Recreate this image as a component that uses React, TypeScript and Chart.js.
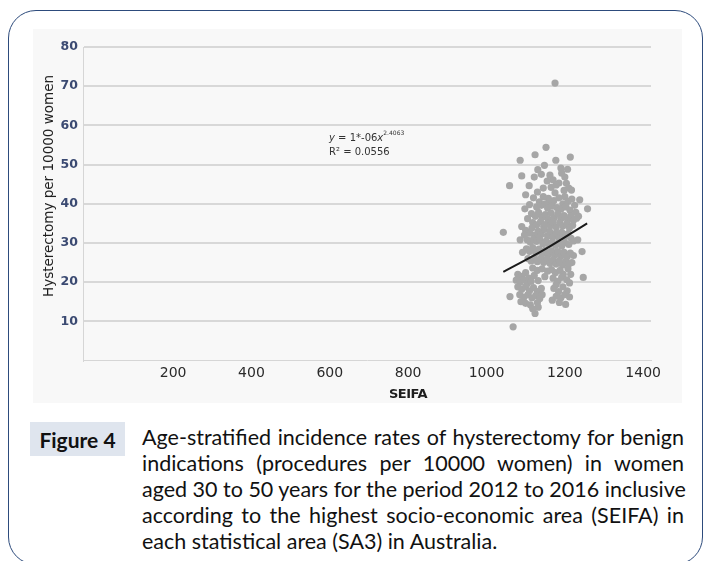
import React, { useEffect, useRef } from 'react';
import { Chart, registerables } from 'chart.js';

Chart.register(...registerables);

// ---- data ----
const xTickValues = [200, 400, 600, 800, 1000, 1200, 1400];
const yTickValues = [0, 10, 20, 30, 40, 50, 60, 70, 80];

// [SEIFA score, hysterectomies per 10000 women]
const scatterPoints: [number, number][] = [
  // periphery / outliers
  [1175, 70.8], [1152, 54.4], [1124, 52.5], [1086, 51.1], [1177, 51.1], [1214, 51.9],
  [1131, 48.7], [1148, 49.8], [1190, 49.1], [1207, 48.8], [1090, 47.1], [1122, 46.8],
  [1162, 47.3], [1170, 46.1], [1200, 46.8], [1059, 44.6], [1109, 44.6], [1185, 45.3],
  [1100, 42.3], [1130, 43.0], [1198, 43.4], [1217, 43.5], [1158, 41.4], [1200, 41.8],
  [1238, 41.0], [1098, 38.7], [1258, 38.7], [1043, 32.7], [1090, 34.2], [1086, 30.8],
  [1092, 27.6], [1233, 30.8], [1244, 27.8], [1247, 21.2], [1149, 21.4], [1122, 21.7],
  [1060, 16.3], [1068, 8.6], [1124, 12.0], [1168, 15.4], [1202, 14.3],
  // 40 - 50
  [1140, 47.5], [1155, 45.8], [1165, 44.2], [1178, 44.8], [1192, 47.8], [1204, 45.2],
  [1145, 44.0], [1210, 44.0], [1175, 42.8],
  [1120, 41.5], [1135, 40.5], [1145, 41.8], [1163, 40.2], [1172, 40.8], [1185, 41.5],
  [1195, 40.0], [1208, 40.6], [1218, 41.2], [1225, 39.6], [1110, 39.8], [1128, 39.2],
  [1140, 39.6], [1150, 40.0], [1156, 38.9], [1168, 39.4], [1180, 39.0], [1190, 38.6],
  [1203, 39.2], [1213, 38.4], [1228, 37.8], [1235, 36.8],
  // 35 - 40
  [1115, 37.5], [1125, 36.8], [1133, 37.8], [1142, 36.5], [1150, 37.2], [1158, 36.0],
  [1165, 37.6], [1173, 36.4], [1182, 37.4], [1190, 36.2], [1198, 37.0], [1207, 36.0],
  [1215, 36.9], [1222, 35.8], [1118, 35.2], [1128, 34.6], [1138, 35.4], [1146, 34.2],
  [1155, 35.0], [1163, 34.4], [1170, 35.3], [1178, 34.0], [1187, 35.1], [1195, 34.3],
  [1205, 34.9], [1212, 33.8], [1220, 34.5], [1105, 36.2], [1230, 36.3],
  // 30 - 35
  [1100, 33.2], [1110, 32.5], [1116, 33.8], [1124, 32.0], [1132, 33.0], [1140, 32.2],
  [1148, 33.4], [1156, 31.8], [1162, 32.8], [1170, 31.6], [1178, 32.6], [1185, 31.4],
  [1192, 32.7], [1200, 31.5], [1208, 32.4], [1216, 31.2], [1104, 30.8], [1112, 30.2],
  [1120, 31.0], [1128, 30.4], [1136, 30.9], [1144, 29.8], [1152, 30.5], [1160, 29.6],
  [1168, 30.2], [1176, 29.4], [1184, 30.0], [1192, 29.2], [1200, 30.1], [1210, 29.6],
  [1222, 30.5], [1097, 32.0],
  // 25 - 30
  [1102, 28.5], [1110, 27.8], [1118, 28.8], [1126, 27.5], [1134, 28.4], [1142, 27.2],
  [1150, 28.2], [1158, 27.0], [1166, 28.0], [1174, 26.8], [1182, 27.8], [1190, 26.6],
  [1198, 27.6], [1206, 26.5], [1214, 27.4], [1222, 26.8], [1106, 26.0], [1114, 25.4],
  [1122, 26.2], [1130, 25.2], [1138, 26.0], [1146, 25.0], [1154, 25.8], [1162, 24.8],
  [1170, 25.6], [1178, 24.6], [1186, 25.4], [1194, 24.4], [1202, 25.2], [1210, 24.6],
  [1218, 25.0],
  // 20 - 25
  [1118, 23.6], [1130, 23.0], [1142, 23.4], [1156, 22.8], [1166, 23.2], [1176, 22.4],
  [1188, 23.0], [1196, 22.0], [1208, 23.4], [1215, 22.0], [1080, 22.0], [1090, 21.5],
  [1100, 22.4], [1108, 21.0], [1076, 20.5], [1086, 20.0], [1095, 20.6], [1104, 19.6],
  [1114, 20.2], [1132, 20.4], [1170, 21.0], [1182, 20.2], [1192, 21.2], [1205, 20.6],
  [1212, 19.8], [1178, 19.4],
  // 12 - 20
  [1080, 18.8], [1090, 18.2], [1100, 18.8], [1110, 17.8], [1120, 18.6], [1130, 17.6],
  [1140, 18.4], [1085, 16.8], [1096, 16.2], [1106, 16.8], [1116, 16.0], [1126, 16.6],
  [1136, 15.8], [1088, 15.0], [1100, 14.6], [1112, 14.2], [1130, 14.8], [1142, 16.8],
  [1172, 18.4], [1184, 17.6], [1195, 18.8], [1206, 17.8], [1178, 16.4], [1190, 16.0],
  [1200, 16.8], [1212, 16.2], [1186, 14.8], [1118, 13.2], [1132, 13.6],
];

// power trend line, read at its ends and middle
const trendSeifa = [1043, 1150, 1257];
const trendRate = [22.6, 28.4, 35.0];

const equationMain = ' = 1*-06';
const equationExponent = '2.4063';
const rSquaredLabel = 'R² = 0.0556';
const equationAnchor = { x: 598, y: 56.8 };

const yAxisTitle = 'Hysterectomy per 10000 women';
const xAxisTitle = 'SEIFA';
const figureLabel = 'Figure 4';
const captionLines = [
  'Age-stratified incidence rates of hysterectomy for benign',
  'indications (procedures per 10000 women) in women',
  'aged 30 to 50 years for the period 2012 to 2016 inclusive',
  'according to the highest socio-economic area (SEIFA) in',
  'each statistical area (SA3) in Australia.',
];

const FONT = '"DejaVu Sans", sans-serif';

const equationPlugin = {
  id: 'equationText',
  afterDatasetsDraw(chart: any) {
    const { ctx, scales } = chart;
    const x0 = scales.x.getPixelForValue(equationAnchor.x);
    const y0 = scales.y.getPixelForValue(equationAnchor.y);
    ctx.save();
    ctx.fillStyle = '#333';
    ctx.textBaseline = 'middle';
    ctx.textAlign = 'left';
    let x = x0;
    ctx.font = `italic 10px ${FONT}`;
    ctx.fillText('y', x, y0);
    x += ctx.measureText('y').width;
    ctx.font = `10px ${FONT}`;
    ctx.fillText(equationMain, x, y0);
    x += ctx.measureText(equationMain).width;
    ctx.font = `italic 10px ${FONT}`;
    ctx.fillText('x', x, y0);
    x += ctx.measureText('x').width;
    ctx.font = `6px ${FONT}`;
    ctx.fillText(equationExponent, x, y0 - 4);
    ctx.font = `10px ${FONT}`;
    ctx.fillText(rSquaredLabel, x0, y0 + 14);
    ctx.restore();
  },
};

export default function App() {
  const canvasRef = useRef<HTMLCanvasElement | null>(null);

  useEffect(() => {
    if (!canvasRef.current) return;
    const chart = new Chart(canvasRef.current, {
      type: 'scatter',
      data: {
        datasets: [
          {
            type: 'line',
            label: 'Power trend',
            data: trendSeifa.map((s, i) => ({ x: s, y: trendRate[i] })),
            borderColor: '#1b1b1b',
            borderWidth: 2,
            pointRadius: 0,
            showLine: true,
            fill: false,
            tension: 0.4,
            order: 0,
          } as any,
          {
            label: 'SA3',
            data: scatterPoints.map(([s, r]) => ({ x: s, y: r })),
            backgroundColor: '#a6a6a6',
            borderWidth: 0,
            pointRadius: 3.6,
            order: 1,
          },
        ],
      },
      options: {
        animation: false,
        responsive: true,
        maintainAspectRatio: false,
        layout: { padding: { top: 18, right: 31, left: 0, bottom: 0 } },
        plugins: {
          legend: { display: false },
          tooltip: { enabled: false },
        },
        scales: {
          x: {
            type: 'linear',
            min: -30,
            max: 1420,
            afterBuildTicks: (scale: any) => {
              scale.ticks = xTickValues.map((v) => ({ value: v }));
            },
            afterFit: (scale: any) => {
              scale.height = 42.5;
            },
            grid: { color: 'transparent', drawTicks: false },
            border: { display: true, color: '#d6d6d6', width: 1 },
            ticks: {
              padding: 4,
              color: '#2a2a2a',
              font: { family: FONT, size: 14 },
              maxRotation: 0,
              callback: (v: any) => String(v),
            },
          },
          y: {
            type: 'linear',
            min: 0,
            max: 80,
            afterBuildTicks: (scale: any) => {
              scale.ticks = yTickValues.map((v) => ({ value: v }));
            },
            afterFit: (scale: any) => {
              scale.width = 50;
            },
            grid: {
              color: (c: any) => (c.tick && c.tick.value === 0 ? 'transparent' : '#d8d8d8'),
              lineWidth: 2,
              drawTicks: false,
            },
            border: { display: true, color: '#d6d6d6', width: 1 },
            ticks: {
              padding: 5,
              color: '#3b4a72',
              font: { family: FONT, size: 12.5, weight: 'bold' },
              callback: (v: any) => (v === 0 ? '' : String(v)),
            },
          },
        },
      } as any,
      plugins: [equationPlugin],
    });
    return () => chart.destroy();
  }, []);

  return (
    <div
      style={{
        position: 'fixed',
        left: 0,
        top: 0,
        width: 704,
        height: 561,
        overflow: 'hidden',
        background: '#ffffff',
      }}
    >
      <div
        style={{
          position: 'absolute',
          left: 8,
          top: 10,
          width: 695,
          height: 555,
          boxSizing: 'border-box',
          border: '1.5px solid #2d4b7c',
          borderRadius: 28,
        }}
      />
      <div
        style={{
          position: 'absolute',
          left: 33,
          top: 29,
          width: 649,
          height: 374,
          background: '#f8f8f8',
        }}
      >
        <canvas ref={canvasRef} />
      </div>
      <div
        style={{
          position: 'absolute',
          left: 48,
          top: 186,
          transform: 'translate(-50%, -50%) rotate(-90deg)',
          whiteSpace: 'nowrap',
          font: `13.5px ${FONT}`,
          color: '#1e1e1e',
        }}
      >
        {yAxisTitle}
      </div>
      <div
        style={{
          position: 'absolute',
          left: 408,
          top: 393,
          transform: 'translate(-50%, -50%)',
          whiteSpace: 'nowrap',
          font: `bold 13px ${FONT}`,
          color: '#1e1e1e',
          letterSpacing: '-0.5px',
        }}
      >
        {xAxisTitle}
      </div>
      <div
        style={{
          position: 'absolute',
          left: 30,
          top: 422,
          width: 95,
          height: 34,
          background: '#dfe5ee',
          display: 'flex',
          alignItems: 'center',
          justifyContent: 'center',
          font: 'bold 21px Lato, sans-serif',
          color: '#111',
        }}
      >
        {figureLabel}
      </div>
      <div
        style={{
          position: 'absolute',
          left: 142,
          top: 424,
          width: 542,
          font: '21.5px Lato, sans-serif',
          color: '#111',
        }}
      >
        {captionLines.map((line, i) => (
          <div
            key={i}
            style={{
              height: 26,
              lineHeight: '26px',
              whiteSpace: 'nowrap',
              textAlign: 'justify',
              textAlignLast: i < captionLines.length - 1 ? 'justify' : 'left',
            }}
          >
            {line}
          </div>
        ))}
      </div>
    </div>
  );
}
